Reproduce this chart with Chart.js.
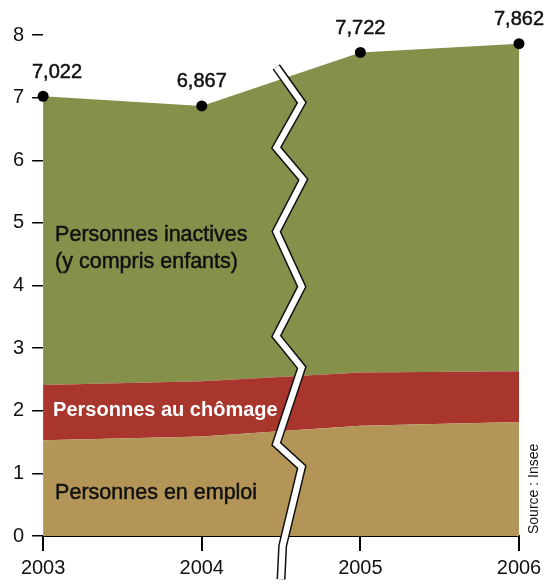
<!DOCTYPE html>
<html>
<head>
<meta charset="utf-8">
<script src="https://cdn.jsdelivr.net/npm/chart.js@4.4.1/dist/chart.umd.min.js"></script>
<style>
  html, body { margin: 0; padding: 0; background: #fff; }
  #wrap { width: 556px; height: 585px; position: relative; }
</style>
</head>
<body>
<div id="wrap"><canvas id="chart"></canvas></div>
<script>
// values (millions)
const years = ['2003', '2004', '2005', '2006']
const emploiTop = [1.53, 1.59, 1.76, 1.82]
const chomageTop = [2.41, 2.47, 2.61, 2.63]
const totals = [7.022, 6.867, 7.722, 7.862]
const totalLabels = ['7,022', '6,867', '7,722', '7,862']

// zigzag "break" between 2004 and 2005, in data units (x = category index)
const breakX = [1.47, 1.63, 1.47, 1.64, 1.47, 1.63, 1.47, 1.63, 1.47, 1.63, 1.51, 1.50]
const breakY = [7.49, 6.92, 6.20, 5.69, 4.86, 3.98, 3.19, 2.69, 1.47, 1.10, -0.16, -0.69]

const FONT = "'Liberation Sans', Arial, sans-serif"
const INK = '#111'
const C_EMPLOI = '#b39558'
const C_CHOMAGE = '#a9362d'
const C_INACTIF = '#85904a'

// thicken text a little, the print font is heavier than regular Arial
function heavyText(ctx, txt, x, y, color) {
  ctx.fillStyle = color
  ctx.strokeStyle = color
  ctx.lineWidth = 0.5
  ctx.fillText(txt, x, y)
  ctx.strokeText(txt, x, y)
}

const textPlugin = {
  id: 'texts',
  afterDatasetsDraw(chart) {
    const { ctx, chartArea, scales } = chart
    const y = scales.y
    const left = chartArea.left + 12
    ctx.save()
    ctx.textBaseline = 'middle'
    ctx.textAlign = 'left'
    ctx.font = `21.5px ${FONT}`
    heavyText(ctx, 'Personnes inactives', left, y.getPixelForValue(4.81), INK)
    heavyText(ctx, '(y compris enfants)', left, y.getPixelForValue(4.38), INK)
    heavyText(ctx, 'Personnes en emploi', left, y.getPixelForValue(0.69), INK)
    ctx.font = `bold 20px ${FONT}`
    ctx.fillStyle = '#fff'
    ctx.fillText('Personnes au chômage', left - 2, y.getPixelForValue(2.0))

    // totals above the dots
    const meta = chart.getDatasetMeta(2)
    ctx.font = `20px ${FONT}`
    ctx.textAlign = 'center'
    meta.data.forEach((pt, i) => {
      const w = ctx.measureText(totalLabels[i]).width
      let cx = pt.x
      if (cx - w / 2 < 32) cx = 32 + w / 2
      heavyText(ctx, totalLabels[i], cx, pt.y - 24, INK)
    })

    // source, rotated
    ctx.font = `14px 'Liberation Sans Narrow', ${FONT}`
    ctx.translate(chartArea.right + 15, chartArea.bottom - 2)
    ctx.rotate(-Math.PI / 2)
    ctx.textAlign = 'left'
    ctx.fillStyle = INK
    ctx.fillText('Source : Insee', 0, 0)
    ctx.restore()
  }
}

const breakPlugin = {
  id: 'axisBreak',
  afterDraw(chart) {
    const { ctx, scales } = chart
    const pts = breakX.map((v, i) => [scales.x.getPixelForValue(v), scales.y.getPixelForValue(breakY[i])])
    ctx.save()
    ctx.lineJoin = 'miter'
    ctx.lineCap = 'butt'
    const path = () => {
      ctx.beginPath()
      pts.forEach(([px, py], i) => i ? ctx.lineTo(px, py) : ctx.moveTo(px, py))
    }
    path()
    ctx.strokeStyle = '#111'
    ctx.lineWidth = 9
    ctx.stroke()
    path()
    ctx.strokeStyle = '#fff'
    ctx.lineWidth = 6
    ctx.stroke()
    ctx.restore()
  }
}

const area = (data, color, fill, extra) => Object.assign({
  data,
  backgroundColor: color,
  borderWidth: 0,
  borderColor: color,
  fill,
  tension: 0,
  pointRadius: 0,
  clip: false
}, extra || {})

new Chart(document.getElementById('chart'), {
  type: 'line',
  data: {
    labels: years,
    datasets: [
      area(emploiTop, C_EMPLOI, 'origin'),
      area(chomageTop, C_CHOMAGE, '-1'),
      area(totals, C_INACTIF, '-1', {
        pointRadius: 5.5,
        pointBackgroundColor: '#000',
        pointBorderWidth: 0,
        pointHoverRadius: 5.5
      })
    ]
  },
  options: {
    responsive: true,
    maintainAspectRatio: false,
    animation: false,
    events: [],
    layout: { padding: { left: 5, right: 37, top: 35, bottom: 0 } },
    plugins: { legend: { display: false }, tooltip: { enabled: false } },
    scales: {
      x: {
        type: 'category',
        offset: false,
        border: { display: true, color: '#000', width: 2 },
        grid: { drawOnChartArea: false, drawTicks: true, tickLength: 15, color: '#000', lineWidth: 2 },
        ticks: { color: INK, font: { family: FONT, size: 20 }, padding: 5, maxRotation: 0 }
      },
      y: {
        min: 0,
        max: 8,
        border: { display: false },
        grid: { drawOnChartArea: false, drawTicks: true, tickLength: 11, color: '#000', lineWidth: 1.5 },
        ticks: { stepSize: 1, color: INK, font: { family: FONT, size: 20 }, padding: 8 }
      }
    }
  },
  plugins: [textPlugin, breakPlugin]
})
</script>
</body>
</html>
